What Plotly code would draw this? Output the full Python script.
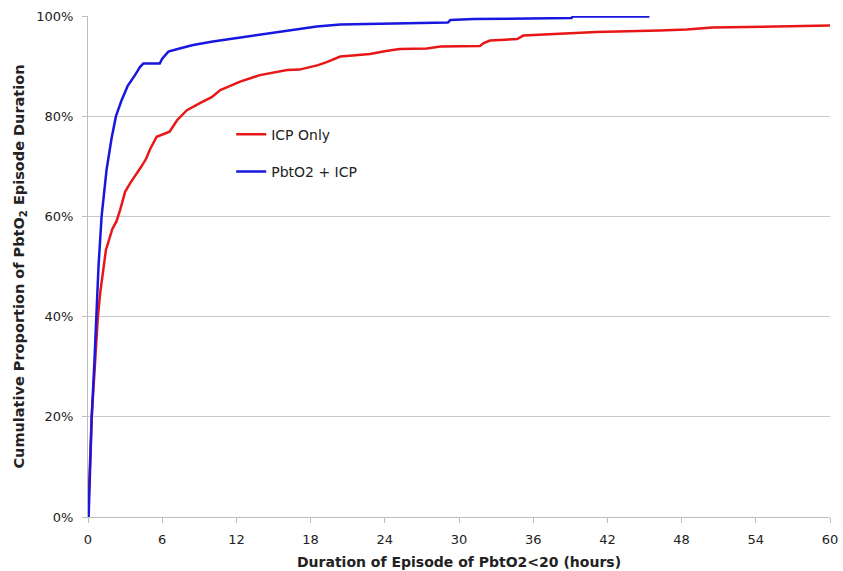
import plotly.graph_objects as go

# Duration (hours) and cumulative proportion (%)
icp_hours = [0.0, 0.1, 0.3, 0.55, 0.8, 1.0, 1.45, 1.97, 2.3, 2.6, 3.0, 3.4, 3.8, 4.3, 4.7, 5.0, 5.55,
             6.6, 7.2, 8.0, 9.05, 10.0, 10.7, 11.5, 12.3, 13.9, 15.0, 16.1, 17.1, 18.2, 18.6, 19.3, 20.4,
             21.4, 22.8, 24.1, 25.2, 27.4, 28.5, 31.7, 32.0, 32.5, 34.7, 35.2, 38.2, 41.1, 46.2,
             48.4, 50.5, 55.9, 58.6, 60.0]
icp_pct = [0.0, 8.0, 20.0, 30.0, 40.0, 45.0, 53.3, 57.5, 59.0, 61.3, 64.9, 66.6, 68.0, 69.9, 71.5, 73.3, 75.9,
           76.9, 79.2, 81.2, 82.6, 83.8, 85.2, 86.0, 86.9, 88.2, 88.7, 89.2, 89.3, 90.0, 90.2, 90.8, 91.9,
           92.1, 92.4, 93.0, 93.4, 93.5, 93.9, 94.0, 94.6, 95.1, 95.4, 96.1, 96.5, 96.8, 97.1,
           97.3, 97.7, 98.0, 98.1, 98.1]

pbto2_hours = [0.05, 0.15, 0.3, 0.5, 0.65, 0.85, 1.1, 1.5, 1.9, 2.26, 2.72, 3.2, 3.8, 4.2, 4.47, 5.8,
               6.0, 6.5, 7.4, 8.5, 10.1, 12.8, 14.0, 15.5, 17.1, 18.2, 18.5, 20.4, 23.7, 29.1, 29.3,
               31.2, 39.1, 39.2, 45.4]
pbto2_pct = [0.0, 10.0, 20.0, 30.0, 40.0, 50.0, 60.0, 69.3, 75.5, 80.0, 83.2, 86.0, 88.2, 89.8, 90.5, 90.5,
             91.5, 92.9, 93.5, 94.2, 94.9, 95.9, 96.3, 96.9, 97.4, 97.8, 97.9, 98.3, 98.5, 98.7, 99.2,
             99.4, 99.6, 99.9, 99.9]

x_ticks = [0, 6, 12, 18, 24, 30, 36, 42, 48, 54, 60]
y_ticks = [0, 20, 40, 60, 80, 100]
y_tick_labels = ["0%", "20%", "40%", "60%", "80%", "100%"]

font_family = "DejaVu Sans, Verdana, sans-serif"

fig = go.Figure()
fig.add_trace(go.Scatter(
    x=icp_hours, y=icp_pct, mode="lines", name="ICP Only", legendgroup="a",
    line=dict(color="#e81717", width=2.5, shape="linear"),
))
fig.add_trace(go.Scatter(
    x=pbto2_hours, y=pbto2_pct, mode="lines", name="PbtO2 + ICP", legendgroup="b",
    line=dict(color="#1717e0", width=2.5, shape="linear"),
))

fig.update_layout(
    width=843, height=571,
    margin=dict(l=88, r=13, t=16, b=54),
    paper_bgcolor="white", plot_bgcolor="white",
    font=dict(family=font_family, size=13, color="#222"),
    showlegend=True,
    legend=dict(
        x=0.193, y=0.795, xanchor="left", yanchor="top",
        bgcolor="rgba(0,0,0,0)", font=dict(size=14, color="#222"),
        tracegroupgap=16, itemwidth=30,
    ),
    xaxis=dict(
        range=[0, 60], tickvals=x_ticks, ticktext=[str(t) for t in x_ticks],
        showgrid=False, zeroline=False, automargin=False,
        showline=True, linecolor="#bdbdbd", linewidth=1,
        ticks="outside", ticklen=5, tickcolor="#bdbdbd",
        ticklabelstandoff=5,
        tickfont=dict(size=13, color="#222"),
        title=dict(text="<b>Duration of Episode of PbtO2<20 (hours)</b>",
                   font=dict(size=14, color="#222"), standoff=11),
    ),
    yaxis=dict(
        range=[0, 100], tickvals=y_ticks, ticktext=y_tick_labels,
        showgrid=True, gridcolor="#c8c8c8", gridwidth=1, zeroline=False, automargin=False,
        showline=True, linecolor="#bdbdbd", linewidth=1,
        ticks="outside", ticklen=5, tickcolor="#bdbdbd",
        ticklabelstandoff=6,
        tickfont=dict(size=13, color="#222"),
        title=dict(text="<b>Cumulative Proportion of PbtO<sub>2</sub> Episode Duration</b>",
                   font=dict(size=14.5, color="#222"), standoff=8),
    ),
)

fig.write_html("out.html", config={"displayModeBar": False},
               post_script="document.body.style.margin='0';")
